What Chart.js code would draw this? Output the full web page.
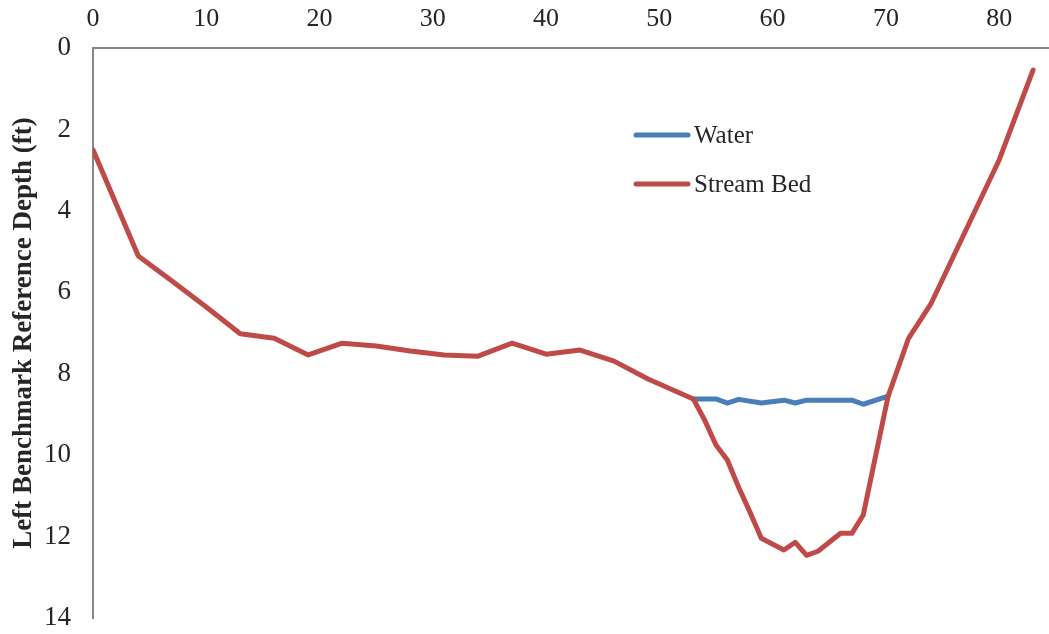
<!DOCTYPE html>
<html>
<head>
<meta charset="utf-8">
<script src="https://cdn.jsdelivr.net/npm/chart.js@4/dist/chart.umd.min.js"></script>
<style>
  html, body { margin: 0; padding: 0; background: #fff; }
  #wrap { width: 1049px; height: 634px; position: relative; }
</style>
</head>
<body>
<div id="wrap"><canvas id="c"></canvas></div>
<script>
// Cross-section survey: station (ft from left benchmark) vs depth below reference (ft)
const bedStation = [0, 4, 7, 10, 13, 16, 19, 22, 25, 28, 31, 34, 37, 40, 43, 46, 49, 53,
                    54, 55, 56, 57, 58, 59, 61, 62, 63, 64, 65, 66, 67, 68, 70.2, 72, 74, 80, 83];
const bedDepth = [2.5, 5.11, 5.73, 6.36, 7.02, 7.13, 7.54, 7.25, 7.32, 7.44, 7.54, 7.57, 7.25, 7.52, 7.42, 7.69, 8.13, 8.62,
                  9.14, 9.75, 10.12, 10.79, 11.4, 12.04, 12.33, 12.14, 12.46, 12.36, 12.14, 11.92, 11.92, 11.47, 8.55, 7.13, 6.27, 2.75, 0.54];

const waterStation = [53, 55, 56, 57, 59, 61, 62, 63, 67, 68, 70.2];
const waterDepth = [8.62, 8.62, 8.72, 8.63, 8.72, 8.65, 8.72, 8.65, 8.65, 8.75, 8.55];

const stationTicks = [0, 10, 20, 30, 40, 50, 60, 70, 80];
const depthTicks = [0, 2, 4, 6, 8, 10, 12, 14];

const seriesNames = ['Water', 'Stream Bed'];
const seriesColors = ['#4A7EBB', '#BE4B48'];

const toPoints = (xs, ys) => xs.map((x, i) => ({ x: x, y: ys[i] }));

const FONT = 'Liberation Serif, Times New Roman, serif';
const TEXT = '#262626';
const AXIS = '#868686';

// Legend drawn inside the plot area, line sample followed by the series name
const insideLegend = {
  id: 'insideLegend',
  afterDatasetsDraw(chart) {
    const ctx = chart.ctx;
    ctx.save();
    chart.data.datasets.forEach((ds, i) => {
      const y = 135 + i * 49;
      ctx.beginPath();
      ctx.lineCap = 'round';
      ctx.lineWidth = 5;
      ctx.strokeStyle = ds.borderColor;
      ctx.moveTo(636, y);
      ctx.lineTo(688, y);
      ctx.stroke();
      ctx.fillStyle = TEXT;
      ctx.font = '25px ' + FONT;
      ctx.textBaseline = 'middle';
      ctx.textAlign = 'left';
      ctx.fillText(ds.label, 694, y + 1);
    });
    ctx.restore();
  }
};

new Chart(document.getElementById('c'), {
  type: 'line',
  data: {
    datasets: [
      {
        label: seriesNames[0],
        data: toPoints(waterStation, waterDepth),
        borderColor: seriesColors[0],
        order: 1
      },
      {
        label: seriesNames[1],
        data: toPoints(bedStation, bedDepth),
        borderColor: seriesColors[1],
        order: 0
      }
    ]
  },
  options: {
    responsive: true,
    maintainAspectRatio: false,
    animation: false,
    layout: { padding: { left: 0, right: 0, top: 0, bottom: 16 } },
    elements: {
      line: { borderWidth: 5, tension: 0, borderJoinStyle: 'round', borderCapStyle: 'round', fill: false },
      point: { radius: 0, hoverRadius: 0 }
    },
    plugins: {
      legend: { display: false },
      tooltip: { enabled: false }
    },
    scales: {
      x: {
        type: 'linear',
        position: 'top',
        min: 0,
        max: 84.4,
        afterBuildTicks(scale) {
          scale.ticks = stationTicks.map(v => ({ value: v }));
        },
        afterFit(scale) {
          scale.height = 48;
          scale.paddingLeft = 0;
          scale.paddingRight = 0;
        },
        grid: { drawOnChartArea: false, drawTicks: false },
        border: { display: true, color: AXIS, width: 2 },
        ticks: {
          padding: 13,
          color: TEXT,
          font: { family: FONT, size: 26 },
          maxRotation: 0,
          autoSkip: false
        }
      },
      y: {
        type: 'linear',
        reverse: true,
        min: 0,
        max: 14,
        afterBuildTicks(scale) {
          scale.ticks = depthTicks.map(v => ({ value: v }));
        },
        afterFit(scale) {
          scale.width = 93;
          scale.paddingTop = 0;
          scale.paddingBottom = 0;
        },
        grid: { drawOnChartArea: false, drawTicks: false },
        border: { display: true, color: AXIS, width: 2 },
        ticks: {
          padding: 22,
          color: TEXT,
          font: { family: FONT, size: 27 },
          autoSkip: false
        },
        title: {
          display: true,
          text: 'Left Benchmark Reference Depth (ft)',
          color: TEXT,
          font: { family: FONT, size: 27, weight: 'bold' },
          padding: { top: 8, bottom: 0 }
        }
      }
    }
  },
  plugins: [insideLegend]
});
</script>
</body>
</html>
